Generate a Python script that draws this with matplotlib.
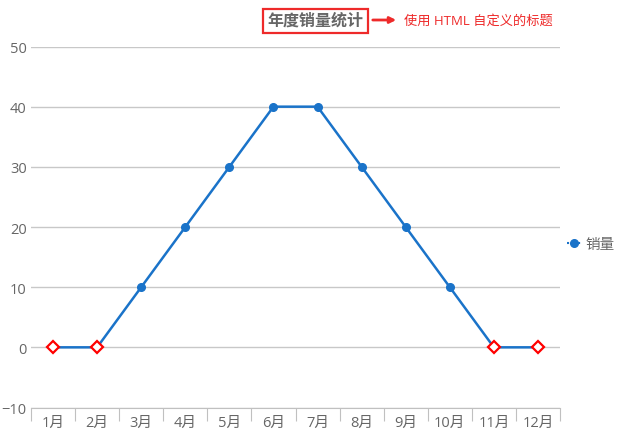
import numpy as np
import matplotlib.pyplot as plt
from matplotlib.patches import FancyArrowPatch

plt.rcParams['font.family'] = ['Open Sans', 'Noto Sans CJK SC', 'DejaVu Sans']

months = ['1月', '2月', '3月', '4月', '5月', '6月', '7月', '8月', '9月', '10月', '11月', '12月']
sales = [0, 0, 10, 20, 30, 40, 40, 30, 20, 10, 0, 0]
series_name = '销量'
title = '年度销量统计'
note = '使用 HTML 自定义的标题'

blue = '#1a73c9'
red = '#ee2a2a'
gray_text = '#666666'

fig = plt.figure(figsize=(6.22, 4.39), dpi=100)
ax = fig.add_axes([31/622, 1 - 408.5/439, (560 - 31)/622, (408.5 - 47.5)/439])

x = np.arange(len(months))
y = np.array(sales)
ax.plot(x, y, color=blue, lw=1.8, zorder=3)
zero = y == 0
ax.plot(x[~zero], y[~zero], 'o', color=blue, ms=5.5, zorder=4)
ax.plot(x[zero], y[zero], 'D', mfc='white', mec='#ff0000', mew=1.6, ms=6, zorder=5)

ax.set_xlim(-0.5, len(months) - 0.5)
ax.set_ylim(-10, 50)
ax.set_yticks(range(-10, 51, 10))
ax.yaxis.grid(True, color='#c8c8c8', lw=1)
ax.set_axisbelow(True)
for s in ['left', 'right', 'top']:
    ax.spines[s].set_visible(False)
ax.spines['bottom'].set_color('#c0c0c0')
ax.tick_params(axis='y', length=0, labelsize=10.5, labelcolor=gray_text, pad=3)

ax.set_xticks(np.arange(-0.5, len(months), 1))
ax.set_xticklabels([])
ax.set_xticks(x, minor=True)
ax.set_xticklabels(months, minor=True)
ax.tick_params(axis='x', which='major', length=9, color='#c0c0c0', direction='out')
ax.tick_params(axis='x', which='minor', length=0, labelsize=10.5, labelcolor=gray_text, pad=5)

# legend
fig.legend(handles=[plt.Line2D([], [], color=blue, marker='o', ms=5.5, lw=1.5, ls=':')],
           labels=[series_name], loc='center left', bbox_to_anchor=(567/622, 1 - 246/439),
           frameon=False, fontsize=10.5, labelcolor=gray_text, handlelength=1.0,
           handletextpad=0.3, borderpad=0, borderaxespad=0)

# title box
fig.text(315.5/622, 1 - 22/439, title, ha='center', va='center', fontsize=11.5,
         fontweight='bold', style='italic', color=gray_text,
         bbox=dict(boxstyle='square,pad=0.28', fc='white', ec=red, lw=1.6))
arrow = FancyArrowPatch((370/622, 1 - 21/439), (399/622, 1 - 21/439),
                        transform=fig.transFigure, arrowstyle='-|>', mutation_scale=9,
                        color=red, lw=2)
fig.patches.append(arrow)
fig.text(404/622, 1 - 21/439, note, ha='left', va='center', fontsize=9.5, color=red)

fig.savefig('out.png', dpi=100)
